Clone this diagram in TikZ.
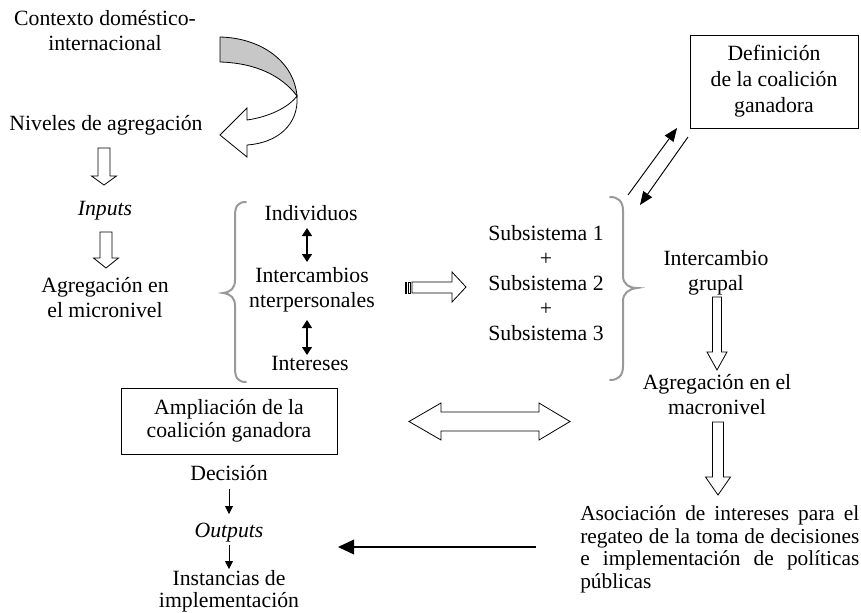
\documentclass[tikz,border=0pt]{standalone}
\usepackage{fontspec}
\setmainfont{Liberation Serif}
\usetikzlibrary{arrows.meta}
\newcommand\fsz[1]{\fontsize{16.3}{#1}\selectfont}
\newcommand\hdown[6]{\draw[hollow] (#1-#4,#2) -- (#1-#4,#3-#6) -- (#1-#5,#3-#6) -- (#1,#3) -- (#1+#5,#3-#6) -- (#1+#4,#3-#6) -- (#1+#4,#2) -- cycle;}
\tikzset{
  txt/.style={font=\fsz{18.75pt}, align=center, inner sep=0pt},
  boxed/.style={draw, line width=0.6pt, inner sep=0pt},
  hollow/.style={draw=black, fill=white, line width=0.6pt, line join=miter},
  brace/.style={draw=gray!80, line width=1.5pt, line cap=round},
  dbl/.style={{Triangle[length=6pt,width=7.5pt]}-{Triangle[length=6pt,width=7.5pt]}, line width=0.8pt},
  thin/.style={-{Triangle[length=6pt,width=6pt]}, line width=0.6pt},
  diag/.style={-{Triangle[length=10pt,width=8pt]}, line width=0.7pt},
  bold/.style={-{Triangle[length=12pt,width=11pt]}, line width=1.1pt},
}
\begin{document}
\begin{tikzpicture}[x=0.75pt,y=-0.75pt]
\useasboundingbox (0,0) rectangle (861,612);

% left column
\node[txt] (cont) at (105,32.5) {\strut Contexto doméstico-\\internacional\strut};
\node[txt] (niv) at (106,125) {\strut Niveles de agregación};
\node[txt] (inp) at (105,210) {\strut\itshape Inputs};
\node[txt] (agmi) at (105,299.5) {\strut Agregación en\\el micronivel\strut};

% curved ribbon arrow
\coordinate (rtip) at (297,96);
\draw[hollow] (rtip) .. controls (299,125) and (277,143) .. (247,145) -- (247,157) -- (220,135) -- (247,108) -- (247,120) .. controls (268,117) and (288,108) .. (rtip) -- cycle;
\draw[line width=0.6pt, fill=black!22] (220,37) .. controls (262,38) and (294,62) .. (rtip) .. controls (282,76) and (256,63) .. (220,62) -- cycle;

% hollow down arrows
\hdown{104}{148}{185}{6}{12.5}{9}
\hdown{106}{232}{268}{6}{12.5}{10}
\hdown{717}{297}{370}{4.5}{10}{18}
\hdown{718}{422}{495}{5.5}{12.5}{18}

% left brace group
\draw[brace] (246,202) .. controls (238,202) and (235,206) .. (235,216) -- (235,280) .. controls (235,288) and (231,292) .. (223,293) .. controls (231,294) and (235,298) .. (235,306) -- (235,368) .. controls (235,378) and (238,382) .. (246,382);
\node[txt] (ind) at (311,215) {\strut Individuos};
\node[txt] (interc) at (312,289.5) {\strut Intercambios\\nterpersonales\strut};
\node[txt] (intr) at (310,365) {\strut Intereses};
\coordinate (d1a) at (307,228); \coordinate (d1b) at (307,262);
\coordinate (d2a) at (307,320); \coordinate (d2b) at (307,355);
\draw[dbl] (d1a) -- (d1b);
\draw[dbl] (d2a) -- (d2b);

% striped arrow
\draw[line width=0.5pt] (405,282) rectangle (406.5,293);
\draw[line width=0.5pt] (408,282) rectangle (410,293);
\draw[hollow] (412,282) -- (452,282) -- (452,272) -- (466,287) -- (452,302) -- (452,293) -- (412,293) -- cycle;

% subsystems and right brace
\node[txt] (subs) at (546,285) {\strut Subsistema 1\\+\\Subsistema 2\\+\\Subsistema 3\strut};
\draw[brace] (610,197) .. controls (618,197) and (623,201) .. (623,211) -- (623,276) .. controls (623,284) and (629,288) .. (637,288) .. controls (629,289) and (623,293) .. (623,301) -- (623,366) .. controls (623,376) and (618,380) .. (610,380);

% definition box
\node[boxed, txt, font=\fsz{19.5pt}, minimum width=126pt, minimum height=69.75pt] (defin) at (774,81.5) {\strut Definición\\de la coalición\\ganadora\strut};
\coordinate (g1a) at (628,195); \coordinate (g1b) at (677,128);
\coordinate (g2a) at (688,137); \coordinate (g2b) at (640,205);
\draw[diag] (g1a) -- (g1b);
\draw[diag] (g2a) -- (g2b);

% right column
\node[txt] (intg) at (716,272.5) {\strut Intercambio\\grupal\strut};
\node[txt] (agma) at (717,397) {\strut Agregación en el\\macronivel\strut};
\node[font=\fontsize{16}{16.9pt}\selectfont, inner sep=0pt, text width=209.25pt, align=justify, anchor=north west] (asoc) at (580,504.5)
  {\hyphenpenalty=10000\exhyphenpenalty=10000\strut Asociación de intereses para el\linebreak regateo de la toma de decisiones\linebreak e implementación de políticas\linebreak públicas\strut};

% double hollow arrow
\draw[hollow] (409,421.5) -- (441,403) -- (441,412) -- (539,412) -- (539,403) -- (570,421.5) -- (539,440) -- (539,431) -- (441,431) -- (441,440) -- cycle;

% bottom left
\node[boxed, txt, font=\fsz{17.25pt}, minimum width=162pt, minimum height=49.5pt] (ampl) at (229,421) {\strut Ampliación de la\\coalición ganadora\strut};
\node[txt] (dec) at (229,475) {\strut Decisión};
\node[txt] (out) at (229,532) {\strut\itshape Outputs};
\node[txt, font=\fsz{15pt}] (inst) at (229,592) {\strut Instancias de\\implementación\strut};
\draw[thin] (229,489) -- (229,514);
\draw[thin] (229,545) -- (229,569);

% bottom long arrow
\coordinate (la) at (536,547); \coordinate (lb) at (338,547);
\draw[bold] (la) -- (lb);
\end{tikzpicture}
\end{document}
